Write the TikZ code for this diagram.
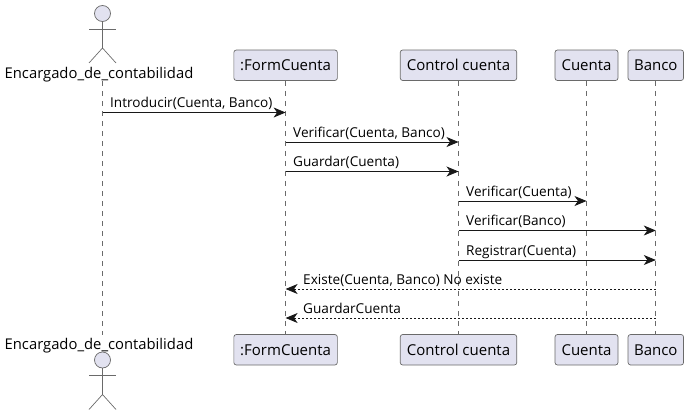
\documentclass[tikz,border=0pt]{standalone}
\usepackage{fontspec}
\setmainfont{Open Sans}
\usetikzlibrary{arrows.meta}
\definecolor{seqfill}{HTML}{E2E2F0}
\definecolor{seqline}{HTML}{6A6A6A}
\definecolor{msgline}{HTML}{181818}
\begin{document}
\begin{tikzpicture}[
        x=1pt, y=-1pt,
        part/.style={draw=seqline, fill=seqfill, rounded corners=2.5pt, line width=0.7pt, minimum height=30.5pt, inner sep=0pt, font=\fontsize{15}{17}\selectfont},
        actorlabel/.style={inner sep=0pt, text height=14pt, text depth=3pt, anchor=base, font=\fontsize{14.8}{17}\selectfont},
        head/.style={draw=seqline, fill=seqfill, circle, minimum size=16pt, inner sep=0pt, line width=0.7pt},
        limb/.style={draw=seqline, line width=0.7pt},
        lifeline/.style={draw=seqline, line width=0.7pt, dash pattern=on 5pt off 5pt},
        msg/.style={draw=msgline, line width=0.8pt, -{Stealth[length=12pt, width=10pt, inset=3.5pt]}},
        reply/.style={msg, dash pattern=on 2pt off 2pt},
        msglabel/.style={inner sep=0pt, anchor=base west, font=\fontsize{13.6}{16}\selectfont}
    ]
        \useasboundingbox (0,0) rectangle (688,415);

        % Participants, top and bottom row
        \foreach \pos/\ybox in {top/65.25, bot/349.75} {
            \node[part, minimum width=103.5pt] (form-\pos) at (285.6,\ybox) {:FormCuenta};
            \node[part, minimum width=116.5pt] (control-\pos) at (458.5,\ybox) {Control cuenta};
            \node[part, minimum width=63pt] (cuenta-\pos) at (586.5,\ybox) {Cuenta};
            \node[part, minimum width=55.5pt] (banco-\pos) at (655.8,\ybox) {Banco};
        }

        % Actor drawn twice
        \foreach \pos/\ytop/\ylabel in {top/13.5/78, bot/360/349} {
            \node[head] (head-\pos) at (102.5,\ytop) {};
            \coordinate (hip-\pos) at (102.5,\ytop+34.5);
            \coordinate (arml-\pos) at (89,\ytop+15.5);
            \coordinate (armr-\pos) at (116,\ytop+15.5);
            \coordinate (legl-\pos) at (89,\ytop+49.5);
            \coordinate (legr-\pos) at (116,\ytop+49.5);
            \draw[limb] (head-\pos) -- (hip-\pos);
            \draw[limb] (arml-\pos) -- (armr-\pos);
            \draw[limb] (legl-\pos) -- (hip-\pos) -- (legr-\pos);
            \node[actorlabel] (actor-\pos) at (99,\ylabel) {Encargado\_de\_contabilidad};
        }

        % Lifelines
        \coordinate (actor-a) at (102.5,81);
        \coordinate (actor-b) at (102.5,335);
        \draw[lifeline] (actor-a) -- (actor-b);
        \foreach \name in {form, control, cuenta, banco} {
            \draw[lifeline] (\name-top) -- (\name-bot);
        }

        % Messages
        \foreach \num/\y/\from/\to/\kind/\textx/\label in {
            1/112.5/actor-a/form-top/msg/110/{Introducir(Cuenta, Banco)},
            2/142/form-top/control-top/msg/293/{Verificar(Cuenta, Banco)},
            3/171.5/form-top/control-top/msg/293/{Guardar(Cuenta)},
            4/201/control-top/cuenta-top/msg/466/{Verificar(Cuenta)},
            5/230.5/control-top/banco-top/msg/466/{Verificar(Banco)},
            6/260/control-top/banco-top/msg/466/{Registrar(Cuenta)},
            7/289/banco-top/form-top/reply/303/{Existe(Cuenta, Banco) No existe},
            8/318/banco-top/form-top/reply/303/{GuardarCuenta}
        } {
            \coordinate (start-\num) at (\from |- 0,\y);
            \coordinate (end-\num) at (\to |- 0,\y);
            \draw[\kind] (start-\num) -- (end-\num);
            \node[msglabel] (label-\num) at (\textx,\y-5) {\label};
        }
    \end{tikzpicture}
\end{document}
